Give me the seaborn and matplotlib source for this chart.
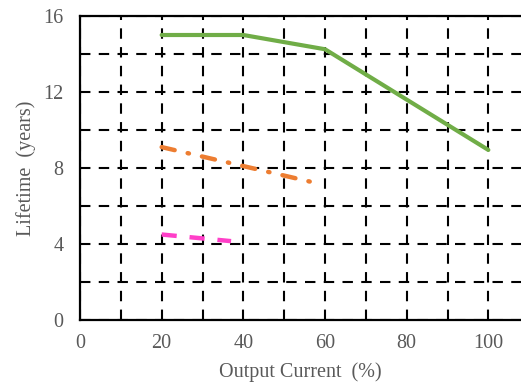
import matplotlib
matplotlib.use("Agg")
import matplotlib.pyplot as plt
import seaborn as sns
import pandas as pd
from matplotlib.ticker import MultipleLocator

green_x = [20, 40, 60, 100]
green_y = [15.0, 15.0, 14.25, 8.95]
orange_x = [20, 58]
orange_y = [9.1, 7.2]
pink_x = [20, 37]
pink_y = [4.5, 4.15]

x_ticks = [0, 20, 40, 60, 80, 100]
y_ticks = [0, 4, 8, 12, 16]

sns.set_style("white")
plt.rcParams['font.family'] = ['Liberation Serif', 'DejaVu Serif']

fig = plt.figure(figsize=(5.21, 3.9), dpi=100)
ax = fig.add_axes([80/521, 1 - 320/390, 441/521, 304/390])

ax.set_xlim(0, 108)
ax.set_ylim(0, 16)
ax.xaxis.set_minor_locator(MultipleLocator(10))
ax.yaxis.set_minor_locator(MultipleLocator(2))
ax.set_xticks(x_ticks)
ax.set_yticks(y_ticks)
ax.grid(which='both', color='black', linestyle=(0, (5, 4)), linewidth=1.5)
ax.set_axisbelow(True)

dg = pd.DataFrame({'x': green_x, 'y': green_y})
do = pd.DataFrame({'x': orange_x, 'y': orange_y})
dp = pd.DataFrame({'x': pink_x, 'y': pink_y})
sns.lineplot(data=dg, x='x', y='y', ax=ax, color='#70ad47', linewidth=3)
sns.lineplot(data=do, x='x', y='y', ax=ax, color='#ed7d31', linewidth=3.2)
sns.lineplot(data=dp, x='x', y='y', ax=ax, color='#ff3fc8', linewidth=3.2)
ax.lines[-2].set_linestyle((0, (3.0, 3.0, 0.3, 3.0)))
ax.lines[-2].set_dash_capstyle('round')
ax.lines[-1].set_linestyle((0, (3.4, 2.9)))

for s in ['left', 'bottom', 'top']:
    ax.spines[s].set_color('black')
    ax.spines[s].set_linewidth(1.6)
ax.spines['right'].set_visible(False)

tc = '#595959'
ax.tick_params(axis='x', which='both', length=0, labelsize=14.5, labelcolor=tc, pad=10)
ax.tick_params(axis='y', which='both', length=0, labelsize=14.5, labelcolor=tc, pad=12)
ax.set_xlabel('Output Current  (%)', fontsize=14.5, color=tc, labelpad=7)
ax.set_ylabel('Lifetime  (years)', fontsize=14.5, color=tc, labelpad=5)

fig.savefig('out.png', dpi=100)
